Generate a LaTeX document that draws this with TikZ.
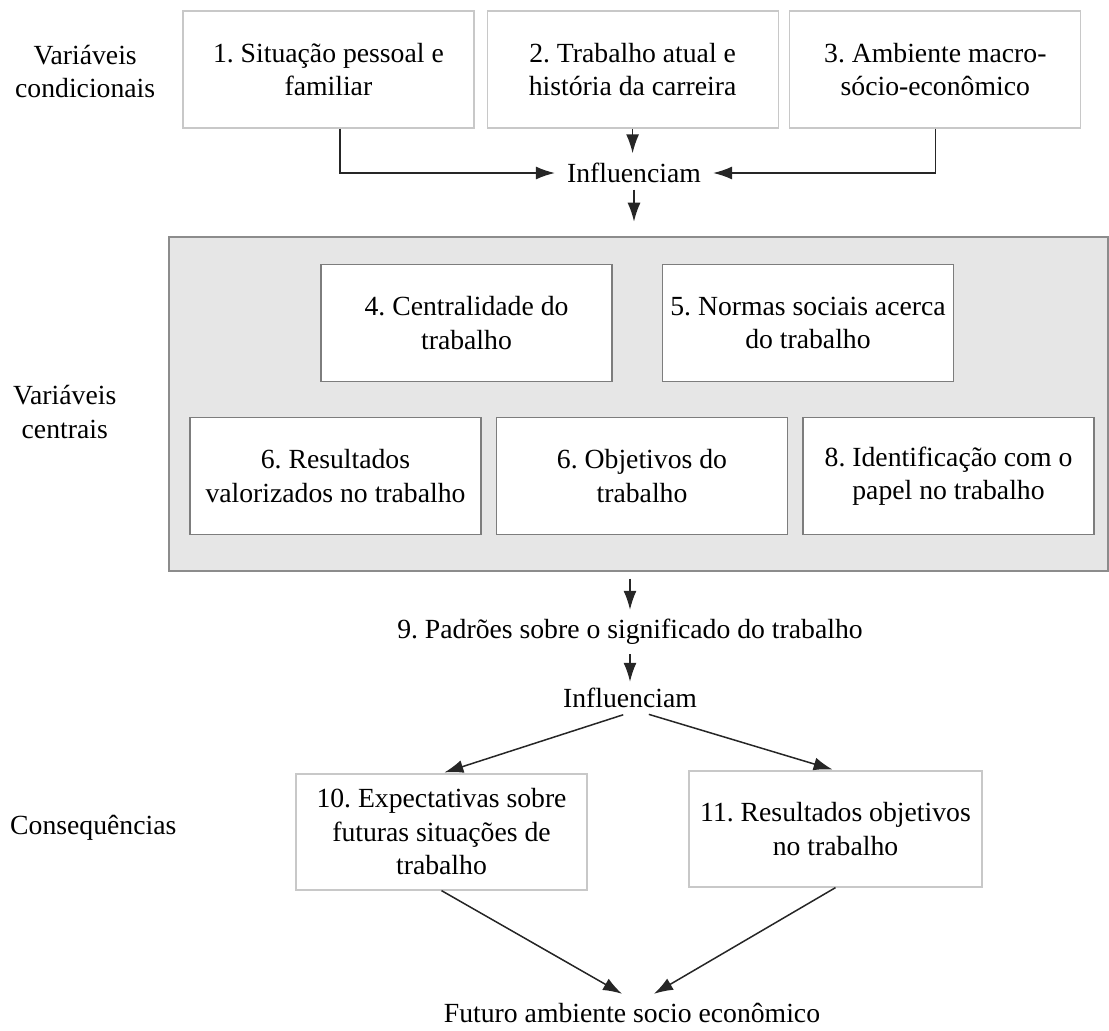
\documentclass[tikz,border=0pt]{standalone}
\usepackage{fontspec}
\setmainfont{Liberation Serif}
\usetikzlibrary{arrows.meta,positioning}
\definecolor{panelgray}{RGB}{230,230,230}
\definecolor{paneledge}{RGB}{140,140,140}
\definecolor{lightedge}{RGB}{200,200,200}
\definecolor{midedge}{RGB}{125,125,125}
\frenchspacing

\begin{document}
\begin{tikzpicture}[x=1pt, y=-1pt, >={Latex[length=19pt,width=13pt]},
    font=\fontsize{27.7}{33.5}\selectfont,
    outerbox/.style={draw=lightedge, line width=1.2pt, fill=white, minimum width=291pt, minimum height=117pt, align=center, inner sep=0pt},
    innerbox/.style={draw=midedge, line width=1.5pt, fill=white, minimum width=291pt, minimum height=117pt, align=center, inner sep=0pt},
    sidelabel/.style={anchor=west, align=center, inner sep=0pt},
    flowtext/.style={inner xsep=12pt, inner ysep=0pt},
    link/.style={->, line width=1.5pt, draw=black!85}]
      \useasboundingbox (0,0) rectangle (1109,1031);

      \node[sidelabel] (lcond) at (15,71.5) {Variáveis\\condicionais};
      \node[sidelabel] (lcent) at (13,412) {Variáveis\\centrais};
      \node[sidelabel] (lcons) at (10,828) {Consequências};

      \node[outerbox] (sit) at (328.4,69.5) {1. Situação pessoal e\\familiar};
      \node[outerbox, right=12pt of sit] (carr) {2. Trabalho atual e\\história da carreira};
      \node[outerbox, right=10.5pt of carr] (macro) {3. Ambiente macro-\\sócio-econômico};
      \node[flowtext, minimum height=33pt] (inf1) at (634,173) {Influenciam};

      \node[draw=paneledge, line width=2pt, fill=panelgray, minimum width=939pt, minimum height=334pt, inner sep=0pt] (panel) at (638.5,403.7) {};
      \node[innerbox] (cent) at (466.5,323) {4. Centralidade do\\trabalho};
      \node[innerbox, right=49pt of cent] (norm) {5. Normas sociais acerca\\do trabalho};
      \node[innerbox] (valor) at (335.5,476) {6. Resultados\\valorizados no trabalho};
      \node[innerbox, right=14pt of valor] (obj) {6. Objetivos do\\trabalho};
      \node[innerbox, right=14pt of obj] (papel) {8. Identificação com o\\papel no trabalho};

      \node[flowtext, minimum height=44pt] (pad) at (630,632) {9. Padrões sobre o significado do trabalho};
      \node[flowtext, minimum height=31pt] (inf2) at (630,697.5) {Influenciam};
      \node[outerbox, minimum height=116pt] (expe) at (441.5,832) {10. Expectativas sobre\\futuras situações de\\trabalho};
      \node[outerbox, minimum width=293pt, minimum height=116pt] (res) at (835.5,829) {11. Resultados objetivos\\no trabalho};
      \node[flowtext, minimum height=38pt] (fut) at (632,1013) {Futuro ambiente socio econômico};

      \draw[link] ([xshift=11.6pt]sit.south) |- (inf1.west);
      \draw[link, shorten >=3pt] (carr.south) -- (carr.south |- inf1.north);
      \draw[link] (macro.south) |- (inf1.east);
      \draw[link, shorten >=14pt] (inf1.south) -- (inf1.south |- panel.north);
      \draw[link, shorten <=7pt] (pad.north |- panel.south) -- (pad.north);
      \draw[link] (pad.south) -- (inf2.north);
      \draw[link, shorten <=5pt, shorten >=3pt] ([xshift=-2pt]inf2.south) -- (expe.north);
      \draw[link, shorten <=4pt, shorten >=3pt] ([xshift=15pt]inf2.south) -- (res.north);
      \draw[link] (expe.south) -- ([xshift=-10pt]fut.north);
      \draw[link] (res.south) -- ([xshift=22pt]fut.north);
    \end{tikzpicture}
\end{document}
